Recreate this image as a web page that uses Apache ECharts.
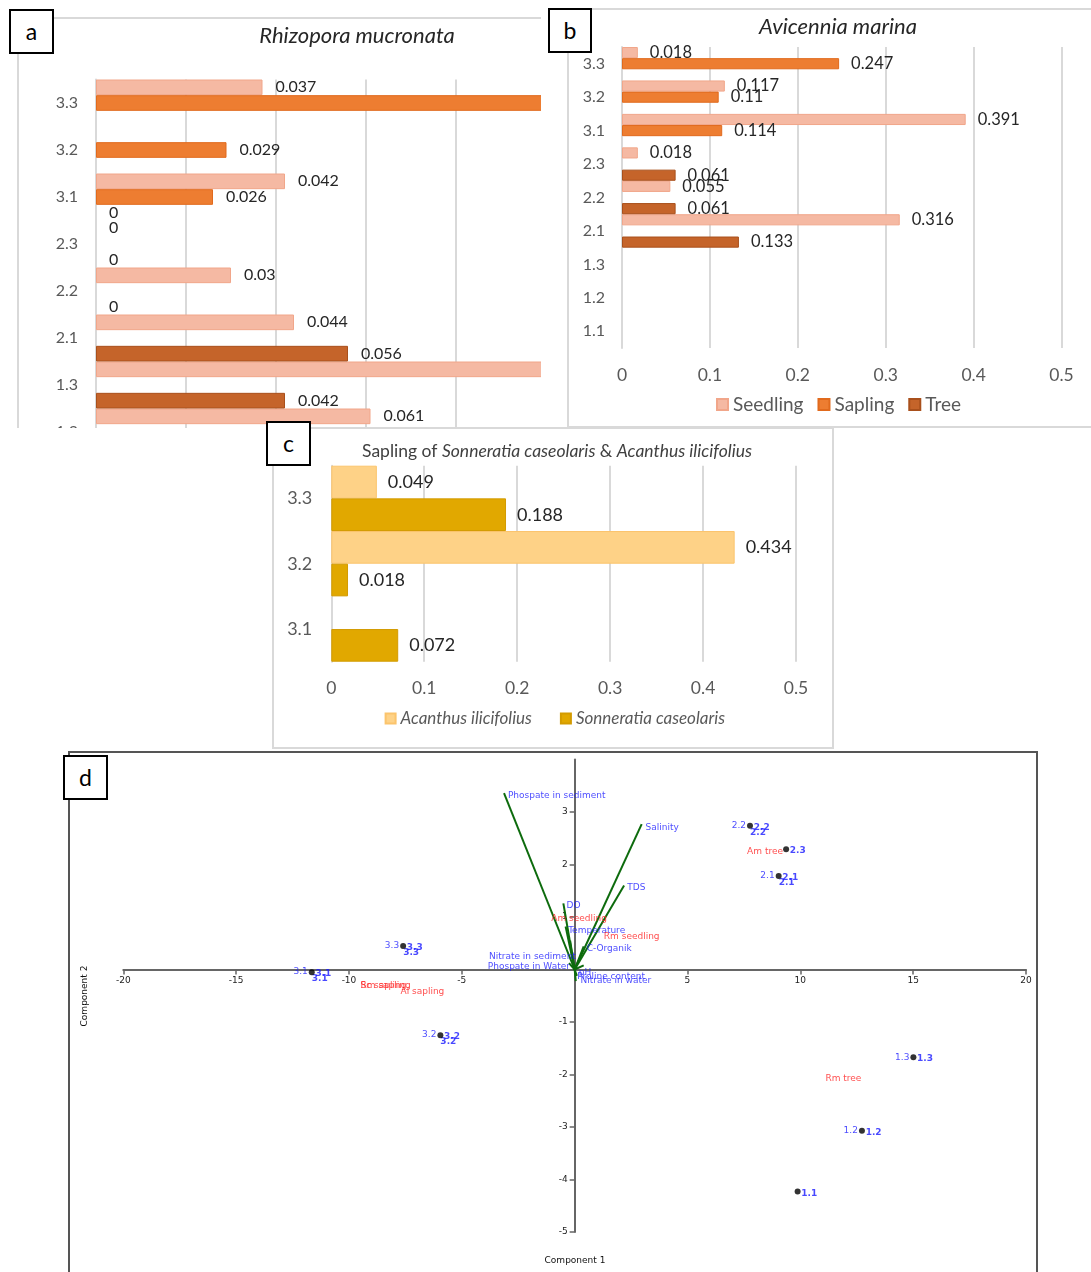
<!DOCTYPE html>
<html>
<head>
<meta charset="utf-8">
<script src="https://cdn.jsdelivr.net/npm/echarts@6/dist/echarts.min.js"></script>
<style>
  html, body { margin: 0; padding: 0; background: #fff; }
  #page { position: relative; width: 1091px; height: 1272px; overflow: hidden; background: #fff; }
  .pane { position: absolute; }
  .frame { position: absolute; box-sizing: border-box; }
  .tag {
    position: absolute; box-sizing: border-box; border: 2px solid #000; background: #fff;
    font-family: Lato, sans-serif; font-size: 23px; color: #000;
    display: flex; align-items: center; justify-content: center; line-height: 1;
  }
</style>
</head>
<body>
<div id="page">
  <!-- a: Rhizopora mucronata -->
  <div class="frame" style="left:17px;top:17px;width:524px;height:411px;border-left:2px solid #d9d9d9;border-top:2px solid #d9d9d9;"></div>
  <div class="pane" style="left:0;top:0;width:541px;height:428px;overflow:hidden;">
    <div id="chartA" style="width:700px;height:520px;"></div>
  </div>
  <div class="tag" style="left:9px;top:9px;width:45px;height:45px;">a</div>

  <!-- b: Avicennia marina -->
  <div class="frame" style="left:567px;top:8px;width:530px;height:420px;border-left:2px solid #d9d9d9;border-top:2px solid #d9d9d9;border-bottom:2px solid #d9d9d9;background:#fff;"></div>
  <div class="pane" id="chartB" style="left:560px;top:0;width:531px;height:428px;"></div>
  <div class="tag" style="left:548px;top:8px;width:44px;height:45px;">b</div>

  <!-- c: saplings of Sonneratia and Acanthus -->
  <div class="frame" style="left:272px;top:427px;width:562px;height:322px;border:2px solid #d9d9d9;background:#fff;"></div>
  <div class="pane" id="chartC" style="left:270px;top:425px;width:565px;height:325px;"></div>
  <div class="tag" style="left:266px;top:421px;width:45px;height:45px;">c</div>

  <!-- d: PCA biplot -->
  <div class="frame" style="left:68px;top:751px;width:970px;height:540px;border-left:2px solid #555;border-top:2px solid #555;border-right:2px solid #555;"></div>
  <div class="pane" id="chartD" style="left:69px;top:752px;width:968px;height:520px;"></div>
  <div class="tag" style="left:63px;top:755px;width:45px;height:45px;">d</div>
</div>

<script>
// ---- site categories, top to bottom ----
const siteOrder = ['3.3', '3.2', '3.1', '2.3', '2.2', '2.1', '1.3', '1.2', '1.1'];

// ---- Rhizopora mucronata (a) ----
const rmSeedling = [0.037, null, 0.042, 0, 0.030, 0.044, 0.104, 0.061, null];
const rmSapling  = [0.112, 0.029, 0.026, null, null, null, null, null, null];
const rmTree     = [null, null, 0, 0, 0, 0.056, 0.042, null, null];

// ---- Avicennia marina (b) ----
const amSeedling = [0.018, 0.117, 0.391, 0.018, 0.055, 0.316, null, null, null];
const amSapling  = [0.247, 0.110, 0.114, null, null, null, null, null, null];
const amTree     = [null, null, null, 0.061, 0.061, 0.133, null, null, null];

// ---- saplings of Sonneratia caseolaris & Acanthus ilicifolius (c) ----
const saplingSites = ['3.3', '3.2', '3.1'];
const acanthusSapling   = [0.049, 0.434, null];
const sonneratiaSapling = [0.188, 0.018, 0.072];

// ---- PCA (d): site scores ----
const pcaSites = ['1.1', '1.2', '1.3', '2.1', '2.2', '2.3', '3.1', '3.2', '3.3'];
const pcaComp1 = [9.88, 12.73, 15.01, 9.04, 7.77, 9.37, -11.65, -5.95, -7.60];
const pcaComp2 = [-4.23, -3.07, -1.67, 1.78, 2.74, 2.29, -0.05, -1.25, 0.45];
const siteLabelsLeft  = ['3.1', '3.3', '3.2', '2.2', '2.1', '1.3', '1.2'];
const siteLabelsRight = ['3.1', '3.3', '3.2', '2.2', '2.1', '2.3', '1.3', '1.2', '1.1'];
const siteLabelsLower = ['3.1', '3.3', '3.2', '2.2', '2.1'];

// ---- PCA (d): environmental loadings and their label anchors ----
const envVars  = ['Phospate in sediment', 'Salinity', 'TDS', 'DO', 'Temperature', 'C-Organik',
                  'Nitrate in sediment', 'Phospate in Water', 'pH', 'Proline content', 'Nitrate in water'];
const envLoad1 = [-3.13, 2.97, 2.19, -0.50, -0.40, 0.40, -0.20, -0.25, 0.40, 0.10, 0.05];
const envLoad2 = [3.36, 2.77, 1.60, 1.26, 0.82, 0.44, 0.55, 0.12, 0.08, -0.12, -0.22];
const envLabX  = [-2.98, 3.12, 2.31, -0.38, -0.31, 0.51, -3.82, -3.87, 0.16, 0.09, 0.24];
const envLabY  = [3.31, 2.70, 1.56, 1.22, 0.74, 0.39, 0.24, 0.05, -0.06, -0.14, -0.22];

// ---- PCA (d): species positions ----
const spNames = ['Am seedling', 'Rm seedling', 'Am tree', 'Rm tree', 'Rm sapling', 'Sc sapling', 'Al sapling'];
const spComp1 = [-1.06, 1.27, 7.62, 11.09, -9.51, -9.51, -7.74];
const spComp2 = [0.96, 0.62, 2.24, -2.07, -0.30, -0.30, -0.42];

const GRID = '#d9d9d9';

// zero-valued bars keep their "0" label but draw no outline
function withZeroStyle(data) {
  return data.map(v => (v === 0 ? { value: 0, itemStyle: { borderWidth: 0 } } : v));
}

function barSeries(name, data, fill, edge, labelSize, labelDist) {
  return {
    type: 'bar', name: name, data: withZeroStyle(data),
    barGap: '0%', barCategoryGap: '0%',
    itemStyle: { color: fill, borderColor: edge, borderWidth: 1 },
    label: {
      show: true, position: 'right', distance: labelDist,
      fontFamily: 'Lato', fontSize: labelSize, color: '#262626',
      formatter: p => String(p.value)
    },
    emphasis: { disabled: true }
  };
}

function categoryAxis(data, size, margin) {
  return {
    type: 'category', inverse: true, data: data,
    axisTick: { show: false },
    axisLine: { lineStyle: { color: GRID, width: 2 } },
    axisLabel: { fontFamily: 'Lato', fontSize: size, color: '#595959', margin: margin }
  };
}

const titleStyle = { fontFamily: 'Lato', fontStyle: 'italic', fontWeight: 'normal', fontSize: 22, color: '#262626' };

// ---------- a ----------
const chartA = echarts.init(document.getElementById('chartA'));
chartA.setOption({
  animation: false,
  title: { text: 'Rhizopora mucronata', left: 352, top: 20, textAlign: 'center', textStyle: titleStyle },
  grid: { left: 96, top: 79.5, width: 540, height: 423 },
  xAxis: {
    type: 'value', min: 0, max: 0.12, interval: 0.02,
    axisLabel: { show: false }, axisLine: { show: false }, axisTick: { show: false },
    splitLine: { lineStyle: { color: GRID, width: 2 } }
  },
  yAxis: categoryAxis(siteOrder, 16, 18),
  series: [
    barSeries('Seedling', rmSeedling, '#F5B9A3', '#F1A68A', 16, 13),
    barSeries('Sapling', rmSapling, '#ED7D31', '#E16A1D', 16, 13),
    barSeries('Tree', rmTree, '#C5642A', '#A9501C', 16, 13)
  ]
});

// ---------- b ----------
const chartB = echarts.init(document.getElementById('chartB'));
chartB.setOption({
  animation: false,
  title: { text: 'Avicennia marina', left: 273, top: 11, textAlign: 'center', textStyle: titleStyle },
  legend: {
    left: 151, top: 390, itemWidth: 11, itemHeight: 11, itemGap: 14, icon: 'rect',
    textStyle: { fontFamily: 'Lato', fontSize: 19, color: '#595959' },
    data: ['Seedling', 'Sapling', 'Tree']
  },
  grid: { left: 62, top: 47, width: 439.5, height: 301 },
  xAxis: {
    type: 'value', min: 0, max: 0.5, interval: 0.1,
    axisLine: { show: false }, axisTick: { show: false },
    axisLabel: { fontFamily: 'Lato', fontSize: 17.5, color: '#595959', margin: 18 },
    splitLine: { lineStyle: { color: GRID, width: 2 } }
  },
  yAxis: categoryAxis(siteOrder, 16, 17),
  series: [
    barSeries('Seedling', amSeedling, '#F5B9A3', '#F1A68A', 16.5, 12),
    barSeries('Sapling', amSapling, '#ED7D31', '#E16A1D', 16.5, 12),
    barSeries('Tree', amTree, '#C5642A', '#A9501C', 16.5, 12)
  ]
});

// ---------- c ----------
const chartC = echarts.init(document.getElementById('chartC'));
chartC.setOption({
  animation: false,
  title: {
    text: '{n|Sapling of }{i|Sonneratia caseolaris}{n| & }{i|Acanthus ilicifolius}',
    left: 282, top: 12, textAlign: 'center',
    textStyle: {
      fontWeight: 'normal',
      rich: {
        n: { fontFamily: 'Lato', fontWeight: 'normal', fontSize: 17.5, color: '#404040' },
        i: { fontFamily: 'Lato', fontWeight: 'normal', fontStyle: 'italic', fontSize: 17.5, color: '#404040' }
      }
    }
  },
  legend: {
    left: 109.6, top: 280, itemWidth: 10, itemHeight: 10, itemGap: 28, icon: 'rect',
    textStyle: { fontFamily: 'Lato', fontStyle: 'italic', fontSize: 17, color: '#595959' },
    data: ['Acanthus ilicifolius', 'Sonneratia caseolaris']
  },
  grid: { left: 61.3, top: 40.7, width: 464.7, height: 196 },
  xAxis: {
    type: 'value', min: 0, max: 0.5, interval: 0.1,
    axisLine: { show: false }, axisTick: { show: false },
    axisLabel: { fontFamily: 'Lato', fontSize: 17.5, color: '#595959', margin: 18 },
    splitLine: { lineStyle: { color: GRID, width: 2 } }
  },
  yAxis: categoryAxis(saplingSites, 18, 19),
  series: [
    barSeries('Acanthus ilicifolius', acanthusSapling, '#FED287', '#FBC46C', 18, 11),
    barSeries('Sonneratia caseolaris', sonneratiaSapling, '#E1A800', '#D39B00', 18, 11)
  ]
});

// ---------- d ----------
const BLUE = '#1a1aff';
const RED = '#ff1f1f';
const smallFont = { fontFamily: 'DejaVu Sans', fontSize: 9 };
const D_GRID = { left: 54.3, top: 7.5, width: 902.7, height: 472.5 };
const X_MIN = -20, X_MAX = 20, Y_MIN = -5, Y_MAX = 4;

function sitePoints(names, withLabelFlag) {
  return pcaSites
    .map((n, i) => ({ name: n, value: [pcaComp1[i], pcaComp2[i]] }))
    .filter(d => withLabelFlag || names.indexOf(d.name) >= 0)
    .map(d => (withLabelFlag ? Object.assign(d, { label: { show: names.indexOf(d.name) >= 0 } }) : d));
}

function siteLabelSeries(names, pos, dist, offset, showDot, weight) {
  return {
    type: 'scatter', data: sitePoints(names, showDot), symbolSize: 6,
    itemStyle: { color: showDot ? '#000' : 'rgba(0,0,0,0)' },
    label: Object.assign({
      show: true, position: pos, distance: dist, offset: offset,
      color: BLUE, fontWeight: weight, formatter: p => p.name
    }, smallFont),
    emphasis: { disabled: true }, z: showDot ? 4 : 3
  };
}

// the axes cross at the origin: shift them from the grid edges onto zero
const xAxisShift = -D_GRID.height * (0 - Y_MIN) / (Y_MAX - Y_MIN);
const yAxisShift = -D_GRID.width * (0 - X_MIN) / (X_MAX - X_MIN);

const chartD = echarts.init(document.getElementById('chartD'));
chartD.setOption({
  animation: false,
  grid: D_GRID,
  xAxis: {
    type: 'value', min: X_MIN, max: X_MAX, interval: 5, position: 'bottom', offset: xAxisShift,
    axisLine: { onZero: false, lineStyle: { color: '#666', width: 2 } },
    axisTick: { length: 5, lineStyle: { color: '#666', width: 1.5 } },
    axisLabel: Object.assign({ color: '#222', margin: 7, formatter: v => (v === 0 ? '' : String(v)) }, smallFont),
    splitLine: { show: false }
  },
  yAxis: {
    type: 'value', min: Y_MIN, max: Y_MAX, interval: 1, position: 'left', offset: yAxisShift,
    axisLine: { onZero: false, lineStyle: { color: '#666', width: 2 } },
    axisTick: { length: 5, lineStyle: { color: '#666', width: 1.5 }, customValues: [-5, -4, -3, -2, -1, 0, 1, 2, 3] },
    axisLabel: Object.assign({ color: '#222', margin: 7, formatter: v => (v === 0 || v === 4 ? '' : String(v)) }, smallFont),
    splitLine: { show: false }
  },
  graphic: [
    { type: 'text', x: 506, y: 508.7, style: { text: 'Component 1', fill: '#111', align: 'center', verticalAlign: 'middle', font: '9px "DejaVu Sans"' } },
    { type: 'text', x: 16, y: 244, rotation: Math.PI / 2, style: { text: 'Component 2', fill: '#111', align: 'center', verticalAlign: 'middle', font: '9px "DejaVu Sans"' } }
  ],
  series: [
    {
      type: 'lines', coordinateSystem: 'cartesian2d', silent: true,
      data: envVars.map((n, i) => ({ name: n, coords: [[0, 0], [envLoad1[i], envLoad2[i]]] })),
      lineStyle: { color: '#0d6b0d', width: 2, opacity: 1 }, z: 2
    },
    {
      type: 'scatter', symbolSize: 1, itemStyle: { color: 'rgba(0,0,0,0)' },
      data: envVars.map((n, i) => ({ name: n, value: [envLabX[i], envLabY[i]] })),
      label: Object.assign({ show: true, position: 'right', distance: 0, color: BLUE, formatter: p => p.name }, smallFont),
      emphasis: { disabled: true }, z: 5
    },
    {
      type: 'scatter', symbolSize: 1, itemStyle: { color: 'rgba(0,0,0,0)' },
      data: spNames.map((n, i) => ({ name: n, value: [spComp1[i], spComp2[i]] })),
      label: Object.assign({ show: true, position: 'right', distance: 0, color: RED, formatter: p => p.name }, smallFont),
      emphasis: { disabled: true }, z: 5
    },
    siteLabelSeries(siteLabelsLower, 'right', 0, [-3, 6.7], false, 'bold'),
    siteLabelSeries(siteLabelsRight, 'right', 0.7, [0, 1.8], false, 'bold'),
    siteLabelSeries(siteLabelsLeft, 'left', 1, [0, 0], true, 'normal')
  ]
});
</script>
</body>
</html>
